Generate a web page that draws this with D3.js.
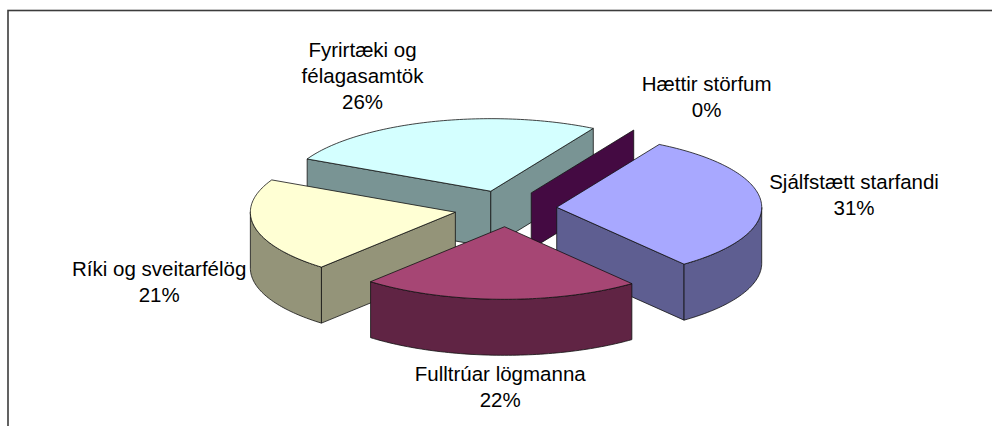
<!DOCTYPE html>
<html lang="is">
<head>
<meta charset="UTF-8">
<title>Skipting eftir starfsvettvangi</title>
<script src="https://cdn.jsdelivr.net/npm/d3@7"></script>
<style>
html,body{margin:0;padding:0;background:#fff;}
svg{display:block;}
text{font-family:Arial,"Liberation Sans",sans-serif;font-size:20.5px;fill:#000;}
</style>
</head>
<body>
<div id="chart"></div>
<script>
// data, in the order Excel draws it (clockwise from the first slice angle)
const categories = ["Sjálfstætt starfandi", "Fulltrúar lögmanna", "Ríki og sveitarfélög", "Fyrirtæki og\nfélagasamtök", "Hættir störfum"];
const values = [31, 22, 21, 26, 0];
const topColors = ["#a8a8ff", "#a64674", "#ffffd4", "#d4ffff", "#5a1457"];
const sideColors = ["#5e5e91", "#602444", "#949479", "#799494", "#440a42"];

const W = 992, H = 426;
const cx = 505.6, cyTop = 208.6;   // centre of the top face (not exploded)
const rPx = 205;                    // radius on screen, horizontal
const tilt = 0.354;                 // vertical squash of the top ellipse
const depthPx = 56;                 // thickness of the pie on screen
const explode = 0.25;               // explosion as part of the radius
const startDeg = 30;

const svg = d3.select('#chart').append('svg')
	.attr('width', W)
	.attr('height', H);

// frame (runs off the right and bottom edge)
svg.append('rect')
	.attr('x', 8).attr('y', 10.5)
	.attr('width', W + 20).attr('height', H + 20)
	.attr('fill', 'none')
	.attr('stroke', '#3c3c3c')
	.attr('stroke-width', 1.6);

let x = d3.scaleLinear().domain([-1, 1]).range([cx - rPx, cx + rPx]);
let z = d3.scaleLinear().domain([-1, 1]).range([cyTop - rPx * tilt, cyTop + rPx * tilt]);

function pt(px, pz, bottom) {
	return [x(px), z(pz) + (bottom ? depthPx : 0)];
}

let start = startDeg * Math.PI / 180;
let pie = d3.pie().sort(null).value(d => d).startAngle(start).endAngle(start + 2 * Math.PI);
let slices = pie(values).map(function (d, i) {
	let mid = (d.startAngle + d.endAngle) / 2;
	return {
		i: i,
		a0: d.startAngle,
		a1: d.endAngle,
		mid: mid,
		ox: explode * Math.sin(mid),
		oz: -explode * Math.cos(mid)
	};
});

function rim(s, a, bottom) {
	return pt(s.ox + Math.sin(a), s.oz - Math.cos(a), bottom);
}
function centre(s, bottom) {
	return pt(s.ox, s.oz, bottom);
}
function arcPts(s, a0, a1, bottom) {
	let n = Math.max(2, Math.ceil(Math.abs(a1 - a0) / 0.02));
	let out = [];
	for (let k = 0; k <= n; k++) out.push(rim(s, a0 + (a1 - a0) * k / n, bottom));
	return out;
}
let line = d3.line();

// back slices first
let order = slices.slice().sort((a, b) => a.oz - b.oz);
let g = svg.append('g');

order.forEach(function (s) {
	let gs = g.append('g').attr('class', 'slice');
	let faces = [];

	// flat sides (only the ones facing us)
	[[s.a0, Math.sin(s.a0) < 0], [s.a1, Math.sin(s.a1) > 0]].forEach(function (f) {
		if (!f[1]) return;
		faces.push([centre(s, false), rim(s, f[0], false), rim(s, f[0], true), centre(s, true)]);
	});

	// round side, front half only
	for (let k = 0; k < 2; k++) {
		let lo = Math.max(s.a0, Math.PI / 2 + 2 * Math.PI * k);
		let hi = Math.min(s.a1, 3 * Math.PI / 2 + 2 * Math.PI * k);
		if (hi > lo) {
			let topEdge = arcPts(s, lo, hi, false);
			let botEdge = arcPts(s, lo, hi, true).reverse();
			faces.push(topEdge.concat(botEdge));
		}
	}

	faces.forEach(function (f) {
		gs.append('path')
			.attr('d', line(f) + 'Z')
			.attr('fill', sideColors[s.i])
			.attr('stroke', '#111')
			.attr('stroke-width', 0.8)
			.attr('stroke-linejoin', 'round');
	});

	if (s.a1 - s.a0 > 0) {
		let top = [centre(s, false)].concat(arcPts(s, s.a0, s.a1, false));
		gs.append('path')
			.attr('d', line(top) + 'Z')
			.attr('fill', topColors[s.i])
			.attr('stroke', '#111')
			.attr('stroke-width', 0.8)
			.attr('stroke-linejoin', 'round');
	}
});

// labels
let total = d3.sum(values);
let lineH = 26, asc = 18, gap = 8;
slices.forEach(function (s) {
	let lines = categories[s.i].split('\n');
	lines.push(Math.round(values[s.i] / total * 100) + '%');

	let t = svg.append('text').attr('text-anchor', 'middle');
	let spans = lines.map(l => t.append('tspan').text(l));
	let w = d3.max(spans, sp => sp.node().getComputedTextLength());
	let boxH = lines.length * lineH - 3;

	let P = rim(s, s.mid, false);
	let Pb = rim(s, s.mid, true);
	let sn = Math.sin(s.mid), cs = Math.cos(s.mid);

	let left;
	if (sn > 0.2) left = P[0] + gap;
	else if (sn < -0.2) left = P[0] - gap - w;
	else left = P[0] - w / 2;

	let top;
	if (cs > 0.3) top = P[1] - gap - boxH;
	else if (cs < -0.3) top = Pb[1] + gap;
	else top = (cs >= 0 ? P[1] - 6 : Pb[1]) - boxH / 2;

	spans.forEach(function (sp, k) {
		sp.attr('x', left + w / 2).attr('y', top + asc + k * lineH);
	});
});
</script>
</body>
</html>
